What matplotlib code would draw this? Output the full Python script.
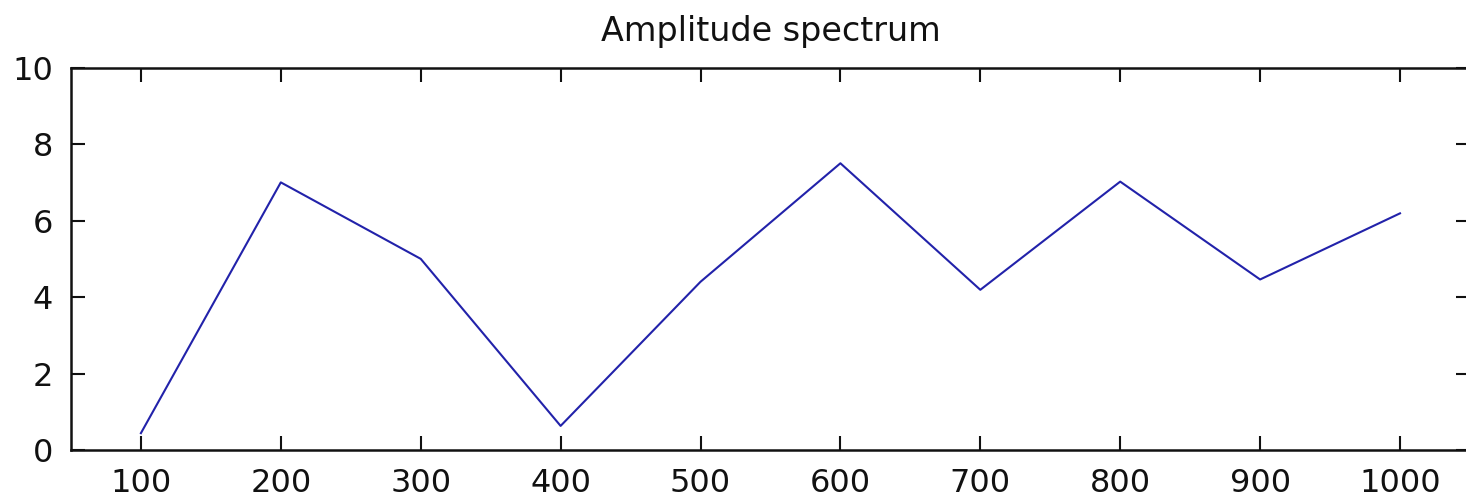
import matplotlib
matplotlib.use("Agg")
import matplotlib.pyplot as plt
import numpy as np

# values
freq = [100, 200, 300, 400, 500, 600, 700, 800, 900, 1000]
amp = [0.44, 7.0, 5.0, 0.63, 4.4, 7.5, 4.19, 7.02, 4.46, 6.19]
xticks = [100, 200, 300, 400, 500, 600, 700, 800, 900, 1000]
yticks = [0, 2, 4, 6, 8, 10]

plt.rcParams['font.family'] = ['DejaVu Sans']

fig = plt.figure(figsize=(14.66, 4.97), dpi=100)
ax = fig.add_axes([0.0484, 0.0946, 0.9543, 0.7692])

ax.plot(freq, amp, color='#2222aa', linewidth=1.5)

ax.set_xlim(50, 1050)
ax.set_ylim(0, 10)
ax.set_xticks(xticks)
ax.set_yticks(yticks)
ax.tick_params(direction='in', top=True, right=True, length=10, width=1.5,
               labelsize=23, pad=13, colors='#111111')
for s in ax.spines.values():
    s.set_linewidth(1.8)
    s.set_color('#111111')

ax.set_title('Amplitude spectrum', fontsize=24, pad=19, color='#111111')

fig.savefig('out.png', dpi=100)
